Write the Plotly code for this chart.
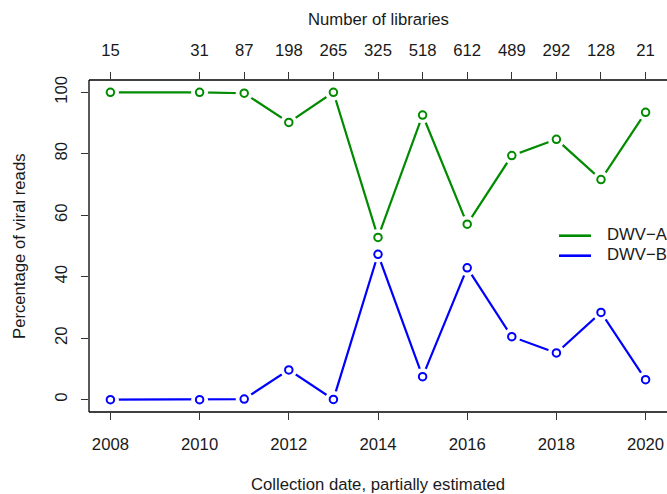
import plotly.graph_objects as go

years = [2008, 2010, 2011, 2012, 2013, 2014, 2015, 2016, 2017, 2018, 2019, 2020]
libraries = [15, 31, 87, 198, 265, 325, 518, 612, 489, 292, 128, 21]
dwv_a = [100, 100, 99.7, 90.2, 100, 52.8, 92.6, 57.1, 79.4, 84.7, 71.6, 93.5]
dwv_b = [0, 0, 0.2, 9.7, 0.1, 47.3, 7.5, 42.9, 20.5, 15.2, 28.4, 6.5]
x_ticks = [2008, 2010, 2012, 2014, 2016, 2018, 2020]
y_ticks = [0, 20, 40, 60, 80, 100]
series_names = ["DWV\u2212A", "DWV\u2212B"]
series_colors = ["#008B00", "#0000FF"]

FONT = "Liberation Sans, Arial, sans-serif"
FS = 16.7
TXT = "#1a1a1a"

xr = [2008 - 0.48, 2020 + 0.48]
yr = [-4, 104]

fig = go.Figure()
series = [dwv_a, dwv_b]
# lines
for vals, name, col in zip(series, series_names, series_colors):
    fig.add_trace(go.Scatter(x=years, y=vals, mode="lines", name=name, showlegend=False,
                             line=dict(color=col, width=2.2), hoverinfo="skip"))
# white gaps around points (R type="b")
for vals in series:
    fig.add_trace(go.Scatter(x=years, y=vals, mode="markers", showlegend=False,
                             marker=dict(size=17, color="white", line=dict(width=0)),
                             hoverinfo="skip"))
# open circles
for vals, name, col in zip(series, series_names, series_colors):
    fig.add_trace(go.Scatter(x=years, y=vals, mode="markers", showlegend=False,
                             marker=dict(symbol="circle-open", size=7.5, color=col,
                                         line=dict(width=2, color=col)),
                             name=name))
# invisible trace for top axis
fig.add_trace(go.Scatter(x=years, y=dwv_a, xaxis="x2", mode="markers",
                         marker=dict(opacity=0), showlegend=False, hoverinfo="skip"))

axis_common = dict(showgrid=False, zeroline=False, ticks="outside", ticklen=7,
                   tickwidth=1, tickcolor="#333", tickfont=dict(family=FONT, size=FS, color=TXT),
                   showline=False)

# manual legend (R style)
leg_x0, leg_x1, leg_tx = (559 - 89) / 578, (591 - 89) / 578, (605 - 89) / 578
leg_ys = [(412 - 235.7) / 332, (412 - 255.7) / 332]
shapes = [
    dict(type="line", xref="paper", yref="paper", x0=0, x1=1, y0=0, y1=0,
         line=dict(color="black", width=1.3)),
    dict(type="line", xref="paper", yref="paper", x0=0, x1=1, y0=1, y1=1,
         line=dict(color="black", width=1.3)),
    dict(type="line", xref="paper", yref="paper", x0=0, x1=0, y0=0, y1=1,
         line=dict(color="black", width=1.3)),
]
annotations = [
    dict(text="Collection date, partially estimated", xref="paper", yref="paper",
         x=0.5, y=0, yshift=-72, showarrow=False, yanchor="middle",
         font=dict(family=FONT, size=FS, color=TXT)),
    dict(text="Number of libraries", xref="paper", yref="paper",
         x=0.5, y=1, yshift=61, showarrow=False, yanchor="middle",
         font=dict(family=FONT, size=FS, color=TXT)),
    dict(text="Percentage of viral reads", xref="paper", yref="paper",
         x=0, y=0.5, xshift=-70, showarrow=False, xanchor="center", textangle=-90,
         font=dict(family=FONT, size=FS, color=TXT)),
]
for name, col, ly in zip(series_names, series_colors, leg_ys):
    shapes.append(dict(type="line", xref="paper", yref="paper", x0=leg_x0, x1=leg_x1,
                       y0=ly, y1=ly, line=dict(color=col, width=2.6)))
    annotations.append(dict(text=name, xref="paper", yref="paper", x=leg_tx, y=ly,
                            xanchor="left", yanchor="middle", showarrow=False, yshift=1,
                            font=dict(family=FONT, size=FS, color=TXT)))

fig.update_layout(
    width=667, height=494,
    margin=dict(l=89, r=0, t=80, b=82),
    paper_bgcolor="white", plot_bgcolor="white",
    font=dict(family=FONT, size=FS, color=TXT),
    xaxis=dict(range=xr, tickvals=x_ticks, ticklabelstandoff=10, **axis_common),
    xaxis2=dict(range=xr, overlaying="x", side="top", tickvals=years,
                ticktext=[str(v) for v in libraries], ticklabelstandoff=9, **axis_common),
    yaxis=dict(range=yr, tickvals=y_ticks, tickangle=-90, ticklabelstandoff=7, **axis_common),
    showlegend=False,
    shapes=shapes,
    annotations=annotations,
)

fig.write_html("out.html", config={"displayModeBar": False},
               post_script="document.body.style.margin='0';document.body.style.overflow='hidden';")
